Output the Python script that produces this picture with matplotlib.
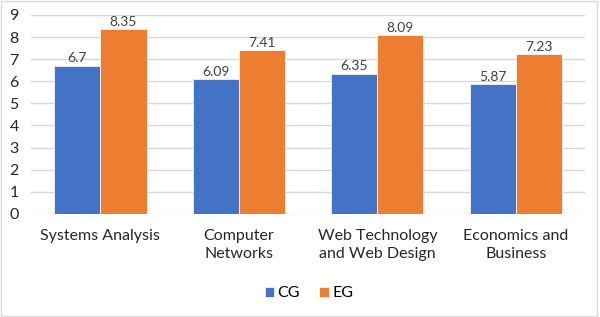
import numpy as np
import matplotlib.pyplot as plt
from matplotlib.patches import Rectangle

plt.rcParams['font.family'] = ['Lato', 'DejaVu Sans']

categories = ['Systems Analysis', 'Computer\nNetworks', 'Web Technology\nand Web Design', 'Economics and\nBusiness']
cg = [6.7, 6.09, 6.35, 5.87]
eg = [8.35, 7.41, 8.09, 7.23]
cg_labels = ['6.7', '6.09', '6.35', '5.87']
eg_labels = ['8.35', '7.41', '8.09', '7.23']

fig = plt.figure(figsize=(6, 3.17), dpi=100)
ax = fig.add_axes([0.052, 0.325, 0.923, 0.628])

x = np.arange(len(categories))
w = 0.333
b1 = ax.bar(x - w / 2, cg, w, color='#4472C4', edgecolor='white', linewidth=0.5, label='CG', zorder=3)
b2 = ax.bar(x + w / 2, eg, w, color='#ED7D31', edgecolor='white', linewidth=0.5, label='EG', zorder=3)
ax.bar_label(b1, labels=cg_labels, padding=1, fontsize=10, color='#404040')
ax.bar_label(b2, labels=eg_labels, padding=1, fontsize=10, color='#404040')

ax.set_xlim(-0.5, 3.5)
ax.set_ylim(0, 9)
ax.set_yticks(range(10))
ax.set_xticks(x)
ax.set_xticklabels(categories, fontsize=11.5, color='#262626', linespacing=1.35)
ax.tick_params(axis='y', labelsize=11.5, colors='#262626', length=0, pad=9)
ax.tick_params(axis='x', length=0, pad=11)
ax.grid(axis='y', color='#D9D9D9', linewidth=1, zorder=0)
for s in ax.spines.values():
    s.set_visible(False)

fig.legend(loc='center', bbox_to_anchor=(0.515, 0.075), ncol=2, frameon=False,
           fontsize=11.5, handlelength=0.6, handleheight=0.6, handletextpad=0.2, columnspacing=1.2)

fig.patches.append(Rectangle((0.002, 0.003), 0.993, 0.994, transform=fig.transFigure,
                             fill=False, edgecolor='#D9D9D9', linewidth=1))

fig.savefig('out.png', dpi=100)
